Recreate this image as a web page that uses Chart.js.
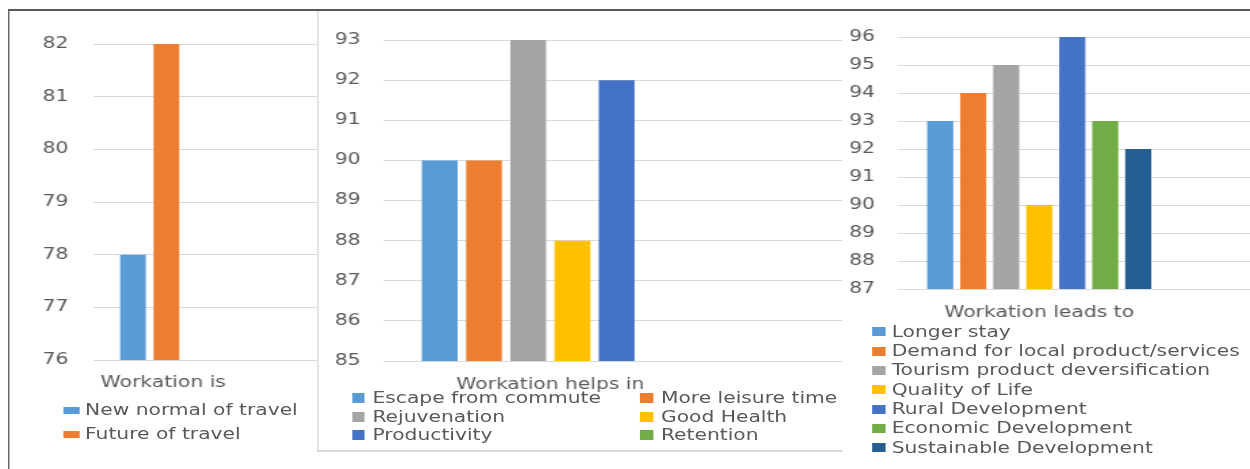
<!DOCTYPE html>
<html>
<head>
<meta charset="utf-8">
<script src="https://cdn.jsdelivr.net/npm/chart.js@4.4.1/dist/chart.umd.min.js"></script>
<style>
  html, body { margin: 0; padding: 0; background: #fff; overflow: hidden; }
  #stage {
    position: absolute; left: 0; top: 0; width: 926px; height: 469px;
    transform: scaleX(1.35); transform-origin: 0 0;
    font-family: "DejaVu Sans", sans-serif; color: #595959;
  }
  .line, .chart, .sw, .leg { position: absolute; }
  .leg { font-size: 15px; line-height: 18px; white-space: nowrap; }
</style>
</head>
<body>
<div id="stage">
  <div class="line" style="left:6.2px;top:9px;width:920px;height:2px;background:#595959"></div>
  <div class="line" style="left:6.2px;top:9px;width:1.2px;height:460px;background:#595959"></div>
  <div class="line" style="left:234.7px;top:11px;width:1.3px;height:441px;background:#d9d9d9"></div>
  <div class="line" style="left:234.7px;top:450px;width:389px;height:1.5px;background:#d9d9d9"></div>

  <div class="chart" style="left:28.89px;top:0;width:205.92px;height:406px"><canvas id="cIs"></canvas></div>
  <div class="chart" style="left:243.7px;top:0;width:380px;height:407px"><canvas id="cHelps"></canvas></div>
  <div class="chart" style="left:625.19px;top:0;width:300.81px;height:335px"><canvas id="cLeads"></canvas></div>
  <div id="legends"></div>
</div>
<script>
// Survey: what workation is, what it helps in, what it leads to (% agreement)
const isCategory = 'Workation is';
const isSeries = ['New normal of travel', 'Future of travel'];
const isValues = [78, 82];
const isTicks = [76, 77, 78, 79, 80, 81, 82];

const helpsCategory = 'Workation helps in';
const helpsSeries = ['Escape from commute', 'More leisure time', 'Rejuvenation', 'Good Health', 'Productivity', 'Retention'];
const helpsValues = [90, 90, 93, 88, 92, 85];
const helpsTicks = [85, 86, 87, 88, 89, 90, 91, 92, 93];

const leadsCategory = 'Workation leads to';
const leadsSeries = ['Longer stay', 'Demand for local product/services', 'Tourism product deversification',
  'Quality of Life', 'Rural Development', 'Economic Development', 'Sustainable Development'];
const leadsValues = [93, 94, 95, 90, 96, 93, 92];
const leadsTicks = [87, 88, 89, 90, 91, 92, 93, 94, 95, 96];

// Office palette
const palette = ['#5B9BD5', '#ED7D31', '#A5A5A5', '#FFC000', '#4472C4', '#70AD47', '#255E91'];
const textColor = '#595959';
const gridColor = '#d9d9d9';
const baseFont = { family: '"DejaVu Sans", sans-serif', size: 15 };

function buildChart(canvasId, p) {
  return new Chart(document.getElementById(canvasId), {
    type: 'bar',
    data: {
      datasets: p.series.map((name, i) => ({
        label: name,
        data: [{ x: 0, y: p.values[i] }],
        backgroundColor: palette[i],
        categoryPercentage: p.groupShare,
        barPercentage: p.barShare
      }))
    },
    options: {
      responsive: true,
      maintainAspectRatio: false,
      animation: false,
      layout: { padding: { top: p.padTop, bottom: 6, left: 0, right: 0 } },
      plugins: { legend: { display: false }, tooltip: { enabled: false } },
      scales: {
        x: {
          type: 'linear', min: p.xMin, max: p.xMax, offset: false,
          grid: { display: false, drawTicks: false }, border: { display: false },
          afterBuildTicks: s => { s.ticks = [{ value: 0 }]; },
          afterFit: s => { s.height = 40; },
          ticks: {
            callback: () => p.category, padding: p.catPad, labelOffset: p.catShift,
            maxRotation: 0, autoSkip: false, color: textColor, font: baseFont
          }
        },
        y: {
          min: p.ticks[0], max: p.ticks[p.ticks.length - 1],
          afterBuildTicks: s => { s.ticks = p.ticks.map(v => ({ value: v })); },
          afterFit: s => { s.width = 40; },
          grid: { color: gridColor, lineWidth: 1, drawTicks: false },
          border: { display: false },
          ticks: { padding: p.tickPad, color: textColor, font: baseFont }
        }
      }
    }
  });
}

// HTML legend built from the chart's own legend items
function buildLegend(chart, lay) {
  const host = document.getElementById('legends');
  const items = chart.options.plugins.legend.labels.generateLabels(chart);
  items.forEach((it, i) => {
    const col = i % lay.cols, row = Math.floor(i / lay.cols);
    const cy = lay.rowTop + row * lay.rowStep;
    const sw = document.createElement('div');
    sw.className = 'sw';
    sw.style.cssText = `left:${lay.boxLeft[col]}px;top:${cy - lay.boxH / 2}px;width:${lay.boxW}px;height:${lay.boxH}px;background:${it.fillStyle}`;
    const tx = document.createElement('div');
    tx.className = 'leg';
    tx.style.cssText = `left:${lay.textLeft[col]}px;top:${cy - 9}px`;
    tx.textContent = it.text;
    host.appendChild(sw);
    host.appendChild(tx);
  });
}

const chartIs = buildChart('cIs', {
  category: isCategory, series: isSeries, values: isValues, ticks: isTicks,
  xMin: -1, xMax: 3, groupShare: 0.297, barShare: 0.77,
  padTop: 44, catPad: 14, catShift: 10, tickPad: 18.5
});
const chartHelps = buildChart('cHelps', {
  category: helpsCategory, series: helpsSeries, values: helpsValues, ticks: helpsTicks,
  xMin: -1, xMax: 1.75, groupShare: 0.578, barShare: 0.81,
  padTop: 40, catPad: 15, catShift: 0, tickPad: 17
});
const chartLeads = buildChart('cLeads', {
  category: leadsCategory, series: leadsSeries, values: leadsValues, ticks: leadsTicks,
  xMin: -2, xMax: 3, groupShare: 0.654, barShare: 0.79,
  padTop: 37, catPad: 15, catShift: 0, tickPad: 17
});

buildLegend(chartIs, { cols: 1, rowTop: 410, rowStep: 24, boxLeft: [47.4], textLeft: [63], boxW: 12, boxH: 7 });
buildLegend(chartHelps, { cols: 2, rowTop: 398, rowStep: 18.5, boxLeft: [260.7, 474], textLeft: [275.9, 489.6], boxW: 9.5, boxH: 10 });
buildLegend(chartLeads, { cols: 1, rowTop: 331.7, rowStep: 19.33, boxLeft: [645.7], textLeft: [660.5], boxW: 10.6, boxH: 9 });
</script>
</body>
</html>
